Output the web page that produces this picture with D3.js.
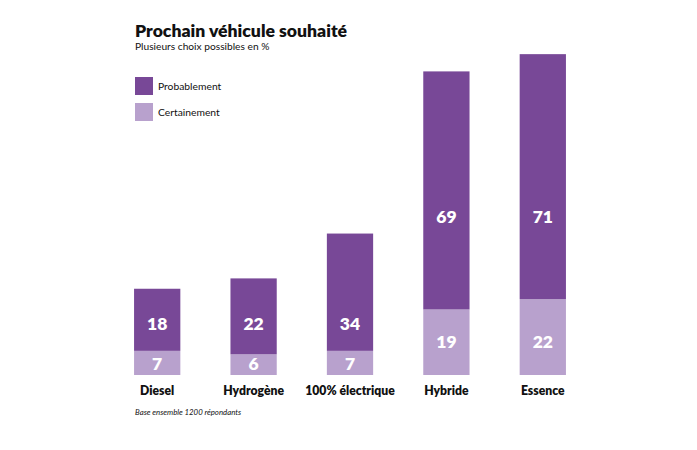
<!DOCTYPE html>
<html><head><meta charset="utf-8">
<script src="https://cdn.jsdelivr.net/npm/d3@7"></script>
<style>body{margin:0;background:#fff}svg{display:block}text{font-family:Lato,"Open Sans",sans-serif}</style>
</head><body>
<script>
const categories = ["Diesel","Hydrogène","100% électrique","Hybride","Essence"];
const certainement = [7,6,7,19,22];
const probablement = [18,22,34,69,71];
const seriesNames = ["Probablement","Certainement"];
const colors = {Probablement:"#784897", Certainement:"#b8a1cd"};

const W=697,H=450;
const svg=d3.select("body").append("svg").attr("width",W).attr("height",H);
const x=d3.scaleBand().domain(categories).range([109,591]).paddingInner(0.52).paddingOuter(0.26);
const y=d3.scaleLinear().domain([0,100]).range([375,30]);

const g=svg.append("g");
categories.forEach((c,i)=>{
  const cv=certainement[i], pv=probablement[i];
  g.append("rect").attr("x",x(c)).attr("width",x.bandwidth())
    .attr("y",y(cv)).attr("height",y(0)-y(cv)).attr("fill",colors.Certainement);
  g.append("rect").attr("x",x(c)).attr("width",x.bandwidth())
    .attr("y",y(cv+pv)).attr("height",y(cv)-y(cv+pv)).attr("fill",colors.Probablement);
  const tall = pv>50;
  g.append("text").attr("x",x(c)+x.bandwidth()/2).attr("y",y(tall?45.8:14.8))
    .attr("dy","0.36em").attr("text-anchor","middle").attr("fill","#fff")
    .attr("font-size",17.5).attr("font-weight",800).text(pv);
  g.append("text").attr("x",x(c)+x.bandwidth()/2).attr("y",y(tall?9.6:3.3))
    .attr("dy","0.36em").attr("text-anchor","middle").attr("fill","#fff")
    .attr("font-size",17.5).attr("font-weight",800).text(cv);
});

const ax=svg.append("g").attr("transform","translate(0,375)")
  .call(d3.axisBottom(x).tickSize(0).tickPadding(11));
ax.select(".domain").remove();
ax.selectAll("text").attr("font-size",12.2).attr("font-weight",800).attr("fill","#111")
  .style("font-family","Lato, sans-serif");

svg.append("text").attr("x",135).attr("y",37).attr("font-size",17.6).attr("font-weight",800)
  .attr("fill","#111").text("Prochain véhicule souhaité");
svg.append("text").attr("x",135).attr("y",50).attr("font-size",10.2).attr("fill","#111")
  .text("Plusieurs choix possibles en %");

seriesNames.forEach((s,i)=>{
  svg.append("rect").attr("x",135).attr("y",77+i*26).attr("width",18).attr("height",18).attr("fill",colors[s]);
  svg.append("text").attr("x",158).attr("y",86+i*26).attr("dy","0.35em").attr("font-size",10.3).attr("fill","#111").text(s);
});

svg.append("text").attr("x",135).attr("y",415).attr("font-size",7.8).attr("font-style","italic")
  .attr("fill","#111").text("Base ensemble 1200 répondants");
</script>
</body></html>
